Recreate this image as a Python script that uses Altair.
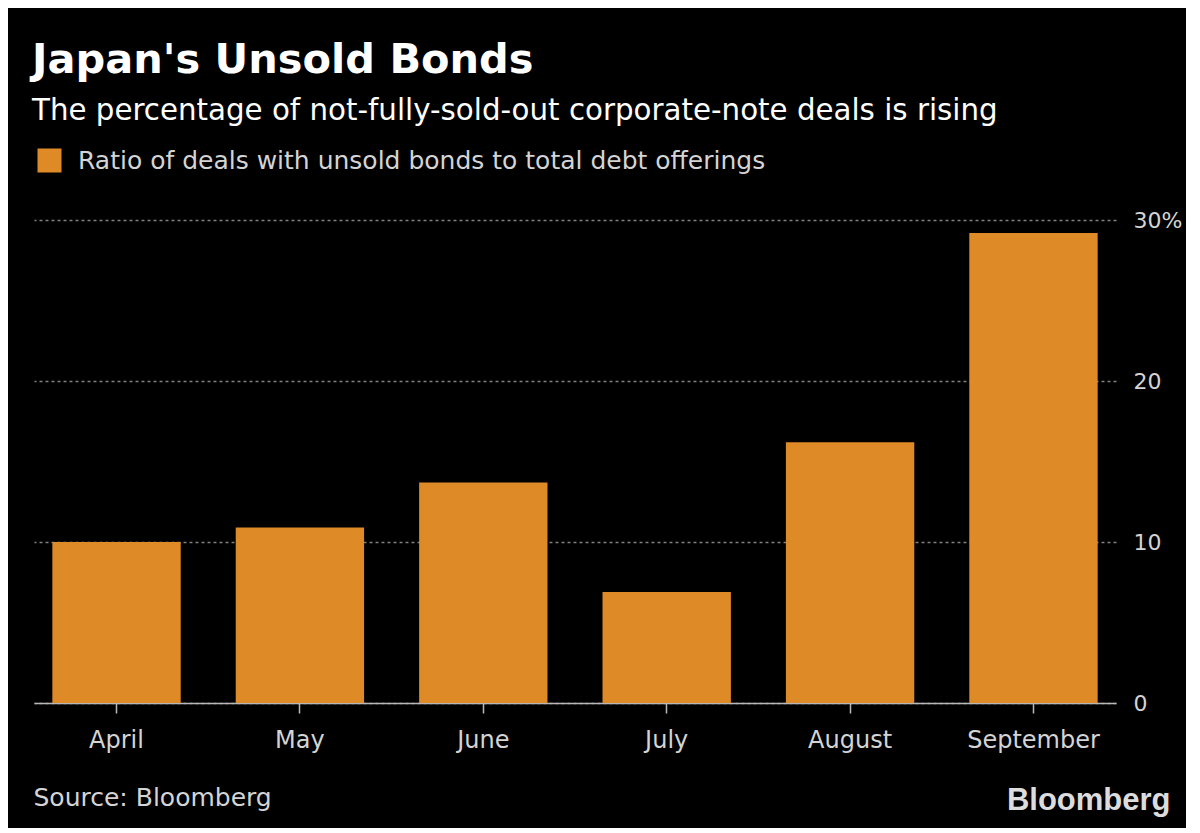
import altair as alt
import pandas as pd

months = ["April", "May", "June", "July", "August", "September"]
ratios = [10.0, 10.9, 13.7, 6.9, 16.2, 29.2]
series_name = "Ratio of deals with unsold bonds to total debt offerings"
y_ticks = [0, 10, 20, 30]

df = pd.DataFrame({"month": months, "ratio": ratios, "series": [series_name] * len(months)})

FONT = "DejaVu Sans, sans-serif"
ORANGE = "#DE8A26"
LABEL = "#d4d4d4"

chart = alt.Chart(df).mark_bar().encode(
    x=alt.X(
        "month:N", sort=months,
        scale=alt.Scale(paddingInner=0.3, paddingOuter=0.1),
        axis=alt.Axis(
            title="Source: Bloomberg", labelAngle=0, grid=False,
            domainColor="#b8b8b8", domainWidth=1.5, tickColor="#b8b8b8", tickWidth=1.5, tickSize=10,
            labelFont=FONT, labelFontSize=24, labelColor=LABEL, labelPadding=15,
            titleFont=FONT, titleFontSize=25, titleFontWeight="normal", titleColor=LABEL,
            titleX=-1, titleY=94, titleAlign="left", titleAnchor="start", titleBaseline="middle",
        ),
    ),
    y=alt.Y(
        "ratio:Q",
        scale=alt.Scale(domain=[0, 30], nice=False),
        axis=alt.Axis(
            orient="right", values=y_ticks,
            labelExpr="datum.value == 30 ? '30%' : datum.label",
            domain=False, ticks=False, labelPadding=17,
            labelFont=FONT, labelFontSize=22, labelColor=LABEL,
            grid=True, gridColor="#808080", gridDash=[3, 3], gridWidth=1.5,
            title="Bloomberg", titleAngle=0, titleX=54, titleY=580,
            titleAlign="right", titleBaseline="middle",
            titleFont="Liberation Sans, Arial, sans-serif", titleFontWeight="bold",
            titleFontSize=31, titleColor="#dcdcdc",
        ),
    ),
    color=alt.Color(
        "series:N", scale=alt.Scale(range=[ORANGE]),
        legend=alt.Legend(
            title=None, orient="none", legendX=3, legendY=-72, padding=0,
            symbolType="square", symbolSize=576, symbolStrokeWidth=0, symbolOpacity=1,
            labelFont=FONT, labelFontSize=25, labelColor=LABEL, labelOffset=16, labelLimit=1000,
        ),
    ),
).properties(
    width=1082, height=483,
    autosize=alt.AutoSizeParams(type="none"),
    padding={"left": 26, "top": 212, "right": 70, "bottom": 125},
    title=alt.TitleParams(
        text="Japan's Unsold Bonds",
        subtitle="The percentage of not-fully-sold-out corporate-note deals is rising",
        anchor="start", dx=-1, offset=22,
        font=FONT, fontSize=41.5, fontWeight="bold", color="white",
        subtitleFont=FONT, subtitleFontSize=29.3, subtitleColor="white", subtitlePadding=15,
    ),
).configure(
    background="black",
).configure_view(
    stroke=None,
)

chart.save("out.html", embed_options={"renderer": "svg", "actions": False})
